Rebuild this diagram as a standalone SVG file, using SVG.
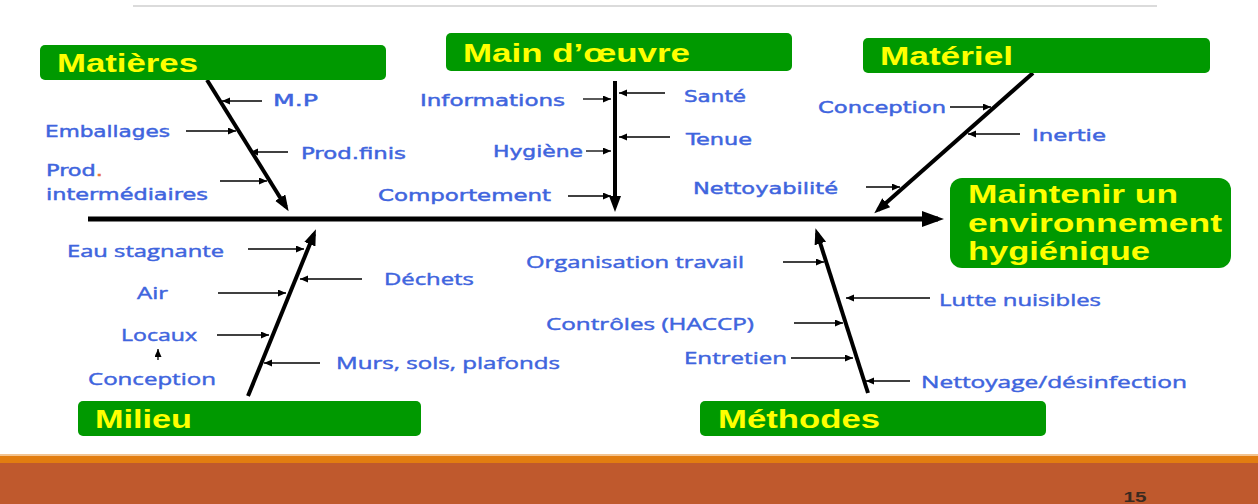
<svg xmlns="http://www.w3.org/2000/svg" width="1258" height="504" viewBox="0 0 1258 504">
  <defs>
    <style>
      .box { fill: #009900; }
      .title { font-family: "Liberation Sans", Arial, sans-serif; font-weight: bold; font-size: 26px; fill: #ffff00; }
      .lbl { font-family: "DejaVu Sans", Verdana, sans-serif; font-size: 16px; fill: #3f65de; stroke: #3f65de; stroke-width: 0.45; }
      .lbl2 { font-family: "Open Sans", "Noto Sans", sans-serif; font-size: 17px; fill: #3f65de; stroke: #3f65de; stroke-width: 0.45; }
      .bone { stroke: #000; stroke-width: 4; fill: none; }
      .spine { stroke: #000; stroke-width: 5; fill: none; }
      .tick { stroke: #000; stroke-width: 1.3; fill: none; }
    </style>
    <marker id="head-spine" markerUnits="userSpaceOnUse" markerWidth="24" markerHeight="18" refX="16" refY="8" orient="auto">
      <path d="M0,0 L22,8 L0,16 z" fill="#000"/>
    </marker>
    <marker id="head-bone" markerUnits="userSpaceOnUse" markerWidth="18" markerHeight="14" refX="11" refY="6" orient="auto">
      <path d="M0,0 L16,6 L0,12 z" fill="#000"/>
    </marker>
    <marker id="head-tick" markerUnits="userSpaceOnUse" markerWidth="9" markerHeight="8" refX="8" refY="3.5" orient="auto">
      <path d="M0,0 L8,3.5 L0,7 z" fill="#000"/>
    </marker>
  </defs>

  <rect width="1258" height="504" fill="#ffffff"/>

  <!-- header rule -->
  <line x1="133" y1="6" x2="1157" y2="6" stroke="#cfcfcf" stroke-width="1.5"/>

  <!-- footer band -->
  <g id="footer">
    <rect x="0" y="454" width="1258" height="3" fill="#f3c38f"/>
    <rect x="0" y="456" width="1258" height="8" fill="#e27d10"/>
    <rect x="0" y="463" width="1258" height="41" fill="#bf592d"/>
    <text x="1135" y="502" text-anchor="middle" font-family="Liberation Sans, Arial, sans-serif" font-weight="bold" font-size="15" fill="#3a2a20" textLength="23" lengthAdjust="spacingAndGlyphs">15</text>
  </g>

  <!-- connectors -->
  <g id="connectors">
    <line class="spine" x1="88" y1="219" x2="938" y2="219" marker-end="url(#head-spine)"/>
    <line class="bone" x1="207" y1="80" x2="286" y2="207" marker-end="url(#head-bone)"/>
    <line class="bone" x1="615" y1="81" x2="615" y2="207" marker-end="url(#head-bone)"/>
    <line class="bone" x1="1033" y1="73" x2="878" y2="210" marker-end="url(#head-bone)"/>
    <line class="bone" x1="248" y1="396" x2="314" y2="234" marker-end="url(#head-bone)"/>
    <line class="bone" x1="868" y1="393" x2="817" y2="233" marker-end="url(#head-bone)"/>

    <!-- Matières causes -->
    <line class="tick" x1="262" y1="101" x2="222" y2="101" marker-end="url(#head-tick)"/>
    <line class="tick" x1="186" y1="131" x2="236" y2="131" marker-end="url(#head-tick)"/>
    <line class="tick" x1="288" y1="152" x2="250" y2="152" marker-end="url(#head-tick)"/>
    <line class="tick" x1="220" y1="181" x2="267" y2="181" marker-end="url(#head-tick)"/>

    <!-- Main d'œuvre causes -->
    <line class="tick" x1="583" y1="99" x2="611" y2="99" marker-end="url(#head-tick)"/>
    <line class="tick" x1="665" y1="93" x2="619" y2="93" marker-end="url(#head-tick)"/>
    <line class="tick" x1="670" y1="137" x2="619" y2="137" marker-end="url(#head-tick)"/>
    <line class="tick" x1="586" y1="151" x2="611" y2="151" marker-end="url(#head-tick)"/>
    <line class="tick" x1="568" y1="196" x2="611" y2="196" marker-end="url(#head-tick)"/>

    <!-- Matériel causes -->
    <line class="tick" x1="950" y1="107" x2="991" y2="107" marker-end="url(#head-tick)"/>
    <line class="tick" x1="1020" y1="134" x2="968" y2="134" marker-end="url(#head-tick)"/>
    <line class="tick" x1="866" y1="187" x2="900" y2="187" marker-end="url(#head-tick)"/>

    <!-- Milieu causes -->
    <line class="tick" x1="248" y1="249" x2="304" y2="249" marker-end="url(#head-tick)"/>
    <line class="tick" x1="362" y1="279" x2="300" y2="279" marker-end="url(#head-tick)"/>
    <line class="tick" x1="218" y1="293" x2="286" y2="293" marker-end="url(#head-tick)"/>
    <line class="tick" x1="217" y1="335" x2="269" y2="335" marker-end="url(#head-tick)"/>
    <line class="tick" x1="320" y1="363" x2="264" y2="363" marker-end="url(#head-tick)"/>
    <line class="tick" x1="158" y1="360" x2="158" y2="349" marker-end="url(#head-tick)"/>

    <!-- Méthodes causes -->
    <line class="tick" x1="783" y1="262" x2="824" y2="262" marker-end="url(#head-tick)"/>
    <line class="tick" x1="930" y1="298" x2="846" y2="298" marker-end="url(#head-tick)"/>
    <line class="tick" x1="794" y1="323" x2="843" y2="323" marker-end="url(#head-tick)"/>
    <line class="tick" x1="791" y1="358" x2="853" y2="358" marker-end="url(#head-tick)"/>
    <line class="tick" x1="910" y1="381" x2="866" y2="381" marker-end="url(#head-tick)"/>
  </g>

  <!-- category nodes -->
  <g id="matieres">
    <rect class="box" x="40" y="45" width="346" height="35" rx="5"/>
    <text class="title" x="57" y="72" textLength="141" lengthAdjust="spacingAndGlyphs">Matières</text>
    <text class="lbl" x="273" y="106" textLength="45" lengthAdjust="spacingAndGlyphs">M.P</text>
    <text class="lbl" x="45" y="137" textLength="125" lengthAdjust="spacingAndGlyphs">Emballages</text>
    <text class="lbl" x="301" y="159" textLength="105" lengthAdjust="spacingAndGlyphs">Prod.finis</text>
    <text class="lbl" x="46" y="176" textLength="57" lengthAdjust="spacingAndGlyphs">Prod<tspan fill="#e8743b" stroke="#e8743b">.</tspan></text>
    <text class="lbl" x="46" y="200" textLength="162" lengthAdjust="spacingAndGlyphs">intermédiaires</text>
  </g>

  <g id="main-oeuvre">
    <rect class="box" x="446" y="33" width="346" height="38" rx="5"/>
    <text class="title" x="463" y="62" textLength="227" lengthAdjust="spacingAndGlyphs">Main d’œuvre</text>
    <text class="lbl" x="420" y="106" textLength="145" lengthAdjust="spacingAndGlyphs">Informations</text>
    <text class="lbl" x="684" y="102" textLength="62" lengthAdjust="spacingAndGlyphs">Santé</text>
    <text class="lbl" x="686" y="145" textLength="66" lengthAdjust="spacingAndGlyphs">Tenue</text>
    <text class="lbl" x="493" y="157" textLength="90" lengthAdjust="spacingAndGlyphs">Hygiène</text>
    <text class="lbl" x="378" y="201" textLength="173" lengthAdjust="spacingAndGlyphs">Comportement</text>
  </g>

  <g id="materiel">
    <rect class="box" x="863" y="38" width="347" height="35" rx="5"/>
    <text class="title" x="880" y="65" textLength="133" lengthAdjust="spacingAndGlyphs">Matériel</text>
    <text class="lbl" x="818" y="113" textLength="128" lengthAdjust="spacingAndGlyphs">Conception</text>
    <text class="lbl" x="1032" y="141" textLength="74" lengthAdjust="spacingAndGlyphs">Inertie</text>
    <text class="lbl" x="693" y="194" textLength="145" lengthAdjust="spacingAndGlyphs">Nettoyabilité</text>
  </g>

  <g id="milieu">
    <rect class="box" x="78" y="401" width="343" height="35" rx="5"/>
    <text class="title" x="95" y="428" textLength="97" lengthAdjust="spacingAndGlyphs">Milieu</text>
    <text class="lbl2" x="67" y="257" textLength="157" lengthAdjust="spacingAndGlyphs">Eau stagnante</text>
    <text class="lbl2" x="137" y="299" textLength="31" lengthAdjust="spacingAndGlyphs">Air</text>
    <text class="lbl2" x="121" y="341" textLength="76" lengthAdjust="spacingAndGlyphs">Locaux</text>
    <text class="lbl2" x="88" y="385" textLength="128" lengthAdjust="spacingAndGlyphs">Conception</text>
    <text class="lbl2" x="384" y="285" textLength="90" lengthAdjust="spacingAndGlyphs">Déchets</text>
    <text class="lbl2" x="336" y="369" textLength="224" lengthAdjust="spacingAndGlyphs">Murs, sols, plafonds</text>
  </g>

  <g id="methodes">
    <rect class="box" x="700" y="401" width="346" height="35" rx="5"/>
    <text class="title" x="718" y="428" textLength="162" lengthAdjust="spacingAndGlyphs">Méthodes</text>
    <text class="lbl2" x="526" y="268" textLength="218" lengthAdjust="spacingAndGlyphs">Organisation travail</text>
    <text class="lbl2" x="546" y="330" textLength="208" lengthAdjust="spacingAndGlyphs">Contrôles (HACCP)</text>
    <text class="lbl2" x="684" y="364" textLength="103" lengthAdjust="spacingAndGlyphs">Entretien</text>
    <text class="lbl2" x="939" y="306" textLength="162" lengthAdjust="spacingAndGlyphs">Lutte nuisibles</text>
    <text class="lbl2" x="921" y="388" textLength="266" lengthAdjust="spacingAndGlyphs">Nettoyage/désinfection</text>
  </g>

  <!-- effect node -->
  <g id="effet">
    <rect class="box" x="950" y="178" width="281" height="90" rx="12"/>
    <text class="title" x="968" y="203" textLength="210" lengthAdjust="spacingAndGlyphs">Maintenir un</text>
    <text class="title" x="968" y="232" textLength="254" lengthAdjust="spacingAndGlyphs">environnement</text>
    <text class="title" x="968" y="260" textLength="182" lengthAdjust="spacingAndGlyphs">hygiénique</text>
  </g>
</svg>
